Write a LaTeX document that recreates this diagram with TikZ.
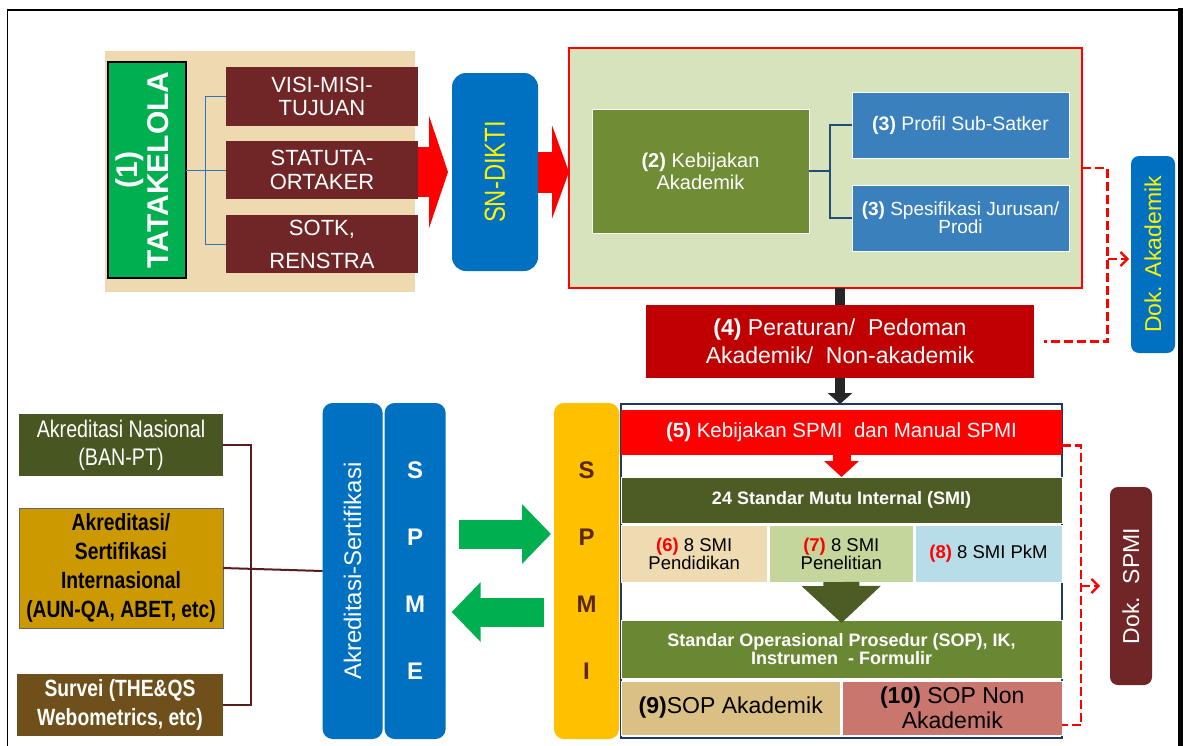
\documentclass[tikz,border=0pt]{standalone}
\usepackage{fontspec}
\setmainfont{Liberation Sans}
\newfontfamily\narrowsf[FakeStretch=0.82]{Liberation Sans}
\usetikzlibrary{arrows.meta}
\definecolor{tanbg}{RGB}{238,217,176}
\definecolor{tatagreen}{RGB}{0,176,80}
\definecolor{maroon}{RGB}{112,38,38}
\definecolor{dikti}{RGB}{0,112,192}
\definecolor{panelgreen}{RGB}{214,227,188}
\definecolor{kebolive}{RGB}{112,140,52}
\definecolor{steel}{RGB}{58,128,189}
\definecolor{treeblue}{RGB}{46,117,182}
\definecolor{treedark}{RGB}{31,78,121}
\definecolor{perared}{RGB}{192,0,0}
\definecolor{aknolive}{RGB}{72,86,34}
\definecolor{aungold}{RGB}{204,153,0}
\definecolor{survbrown}{RGB}{112,80,26}
\definecolor{linemaroon}{RGB}{88,30,30}
\definecolor{spmiyellow}{RGB}{255,192,0}
\definecolor{spmibrown}{RGB}{90,40,10}
\definecolor{navy}{RGB}{31,56,100}
\definecolor{smidark}{RGB}{76,92,36}
\definecolor{wheat6}{RGB}{239,219,178}
\definecolor{green7}{RGB}{196,214,155}
\definecolor{blue8}{RGB}{183,221,232}
\definecolor{sopolive}{RGB}{106,136,51}
\definecolor{sop9}{RGB}{218,192,132}
\definecolor{sop10}{RGB}{200,118,110}
\definecolor{shaftgrey}{RGB}{38,38,38}
\newcommand{\fsz}[2]{\fontsize{#1}{#2}\selectfont}
\tikzset{
  blk/.style 2 args = {anchor=north west, minimum width=#1pt, minimum height=#2pt,
                       inner sep=0pt, outer sep=0pt, align=center},
  mbox/.style    = {fill=maroon, text=white, font=\fsz{22}{23.3}},
  vbox/.style    = {fill=dikti, rounded corners=#1, text=white},
  vbox/.default  = 10pt,
  inbox/.style   = {draw=white, line width=0.8pt},
  bline/.style   = {draw=treeblue, line width=1pt},
  kline/.style   = {draw=treedark, line width=2pt},
  mline/.style   = {draw=linemaroon, line width=2pt},
  dashred/.style = {draw=red, line width=2.3pt, dash pattern=on 9pt off 4pt},
  dtip/.style    = {-{Straight Barb[length=7pt,width=14pt,line width=2.2pt]}},
  darkshaft/.style = {draw=shaftgrey, line width=10pt},
}
\begin{document}
\begin{tikzpicture}[x=1pt, y=-1pt]
\useasboundingbox (0,0) rectangle (1183,745);
\fill[white] (0,0) rectangle (1183,745);
\draw[line width=1.6pt] (7.5,760) -- (7.5,10) -- (1181,10);
\draw[line width=4.5pt] (1180.5,8) -- (1180.5,760);

% ---------------- top left : tatakelola
\fill[tanbg] (104.5,51) rectangle (415,292);
\node[blk={78}{216}, fill=tatagreen, draw=black, line width=1.2pt, text=white,
      font=\bfseries\fsz{30}{31}] (tata) at (108,62)
  {\rotatebox{90}{\begin{tabular}{@{}c@{}}(1)\\TATAKELOLA\end{tabular}}};
\node[blk={192}{59}, mbox] (visi) at (226,67) {VISI-MISI-\\TUJUAN};
\node[blk={192}{58}, mbox, font=\fsz{22}{24}] (stat) at (226,141) {STATUTA-\\ORTAKER};
\node[blk={192}{58}, mbox, font=\fsz{22}{33}] (sotk) at (226,215) {SOTK,\\RENSTRA};
\draw[bline] (tata.east) -- (stat.west);
\draw[bline] (visi.west) -- ++(-20.5,0) |- (sotk.west);

\node[blk={86}{198}, vbox=14pt, text=yellow, font=\narrowsf\fsz{29}{30}] (sn) at (452,73)
  {\rotatebox{90}{SN-DIKTI}};
\draw[red, line width=50pt, -{Triangle[width=112pt,length=19pt]}]
  (stat.east |- sn.west) -- ([xshift=-4pt]sn.west);

% ---------------- top right : kebijakan
\node[blk={513}{240}, fill=panelgreen, draw=red, line width=2pt] (panel) at (569,48) {};
\draw[red, line width=41pt, -{Triangle[width=93pt,length=17pt]}]
  (sn.east) -- (panel.west |- sn.east);
\node[blk={217}{124}, inbox, fill=kebolive, text=white, font=\fsz{20}{22}] (keb) at (592,109)
  {\textbf{(2)} Kebijakan\\Akademik};
\node[blk={217}{66}, inbox, fill=steel, text=white, font=\fsz{19.5}{20}] (prof) at (852,92)
  {\textbf{(3)} Profil Sub-Satker};
\node[blk={217}{66}, inbox, fill=steel, text=white, font=\fsz{19}{18}] (spes) at (852,185)
  {\textbf{(3)} Spesifikasi Jurusan/\\Prodi};
\draw[kline] (keb.east) -- ++(21,0);
\draw[kline] (prof.west) -- ++(-22,0) |- (spes.west);

\node[blk={44}{197}, vbox=8pt, text=yellow, font=\fsz{23}{24}] (dokak) at (1131,156)
  {\rotatebox{90}{Dok. Akademik}};
\node[blk={388}{73}, fill=perared, text=white, font=\fsz{23}{28}] (pera) at (646,305)
  {\textbf{(4)} Peraturan/\ \ Pedoman\\Akademik/\ \ Non-akademik};
\draw[darkshaft] (pera.north) -- (pera.north |- panel.south);

\draw[dashred] (panel.east) -- ++(25.5,0) coordinate (dka) |- ([xshift=10pt]pera.east);
\draw[dashred, dtip] ([yshift=-4.5pt]dka |- dokak.west) -- ([xshift=-2pt,yshift=-4.5pt]dokak.west);

% ---------------- bottom left : spme
\node[blk={204}{62}, fill=aknolive, text=white, font=\narrowsf\fsz{24}{28}] (akn) at (19,414)
  {Akreditasi Nasional\\(BAN-PT)};
\node[blk={204}{120}, fill=aungold, draw=black!60, text=black, font=\narrowsf\bfseries\fsz{23.5}{29}] (aun) at (19,508)
  {Akreditasi/\\Sertifikasi\\Internasional\\(AUN-QA, ABET, etc)};
\node[blk={206}{62}, fill=survbrown, text=white, font=\narrowsf\bfseries\fsz{23.5}{28.4}] (surv) at (17,674)
  {Survei (THE\&QS\\Webometrics, etc)};
\node[blk={60}{336}, vbox, font=\fsz{24}{25}] (akrs) at (322.6,403)
  {\rotatebox{90}{Akreditasi-Sertifikasi}};
\node[blk={61}{336}, vbox, font=\bfseries\fsz{24}{67}] (spme) at (384.6,403) {S\\P\\M\\E};
\draw[mline] (akn.east) -- ++(28,0) |- (surv.east);
\draw[mline] (aun.east) -- (akrs.west);

\node[blk={65}{336}, fill=spmiyellow, rounded corners=10pt, text=spmibrown,
      font=\bfseries\fsz{24}{67}] (spmi) at (554,403) {S\\P\\M\\I};
\draw[tatagreen, line width=29pt, -{Triangle[width=58pt,length=29pt]}]
  ([xshift=13pt,yshift=37pt]spme.east) -- ([xshift=-3pt,yshift=37pt]spmi.west);
\draw[tatagreen, line width=29pt, -{Triangle[width=58pt,length=29pt]}]
  ([xshift=-10pt,yshift=-41pt]spmi.west) -- ([xshift=6pt,yshift=-41pt]spme.east);

% ---------------- bottom right : spmi documents
\node[blk={441}{334}, draw=navy, line width=1.5pt, fill=white] (outer) at (621,404) {};
\draw[darkshaft, -{Triangle[width=24pt,length=11pt]}] (pera.south) -- (pera.south |- outer.north);
\node[blk={441}{45}, fill=red, text=white, font=\fsz{20.5}{21}] (k5) at (621,410)
  {\textbf{(5)} Kebijakan SPMI\ \ dan Manual SPMI};
\node[blk={441}{46}, inbox, fill=smidark, text=white, font=\bfseries\fsz{18}{19}] (smi24) at (621,477)
  {24 Standar Mutu Internal (SMI)};
\draw[red, line width=18pt, -{Triangle[width=34pt,length=16pt]}] (k5.south) -- (smi24.north);
\node[blk={146.5}{57}, inbox, fill=wheat6, font=\fsz{18.5}{18}] (smi6) at (621,525)
  {\textcolor{red}{\textbf{(6)}} 8 SMI\\Pendidikan};
\node[blk={143.4}{57}, inbox, fill=green7, font=\fsz{18.5}{18}] (smi7) at (769.6,525)
  {\textcolor{red}{\textbf{(7)}} 8 SMI\\Penelitian};
\node[blk={147}{57}, inbox, fill=blue8, font=\fsz{18.5}{19}] (smi8) at (915,525)
  {\textcolor{red}{\textbf{(8)}} 8 SMI PkM};
\node[blk={441}{58}, inbox, fill=sopolive, text=white, font=\bfseries\fsz{18}{18}] (sop) at (621,620)
  {Standar Operasional Prosedur (SOP), IK,\\Instrumen\ \ - Formulir};
\draw[smidark, line width=36pt, -{Triangle[width=77pt,length=37pt]}]
  (smi7.south) -- ([yshift=-3pt]sop.north);
\node[blk={219.5}{54}, inbox, fill=sop9, font=\fsz{23}{25}] (sopak) at (621,681)
  {\textbf{(9)}SOP Akademik};
\node[blk={219.4}{54}, inbox, fill=sop10, font=\fsz{23}{25}] (sopnon) at (842.6,681)
  {\textbf{(10)} SOP Non\\Akademik};

\node[blk={42}{198}, fill=maroon, rounded corners=8pt, text=white, font=\fsz{23}{24}] (dokspmi) at (1110,487)
  {\rotatebox{90}{Dok.\ \ SPMI}};
\draw[dashred] ([yshift=-13pt]k5.east) -- ++(19,0) coordinate (dks) |- ([yshift=-17pt]sopnon.east);
\draw[dashred, dtip] (dks |- dokspmi.west) -- ([xshift=-10pt]dokspmi.west);

\end{tikzpicture}
\end{document}
